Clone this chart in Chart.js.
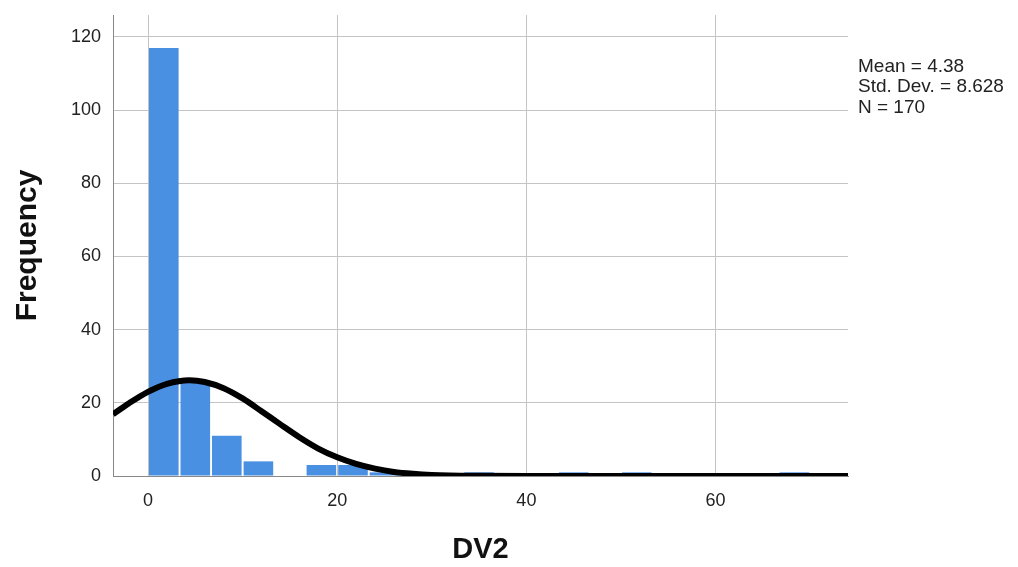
<!DOCTYPE html>
<html>
<head>
<meta charset="utf-8">
<script src="https://cdn.jsdelivr.net/npm/chart.js@4/dist/chart.umd.min.js"></script>
<style>
  html, body { margin: 0; padding: 0; background: #fff; }
  #wrap { width: 1018px; height: 567px; }
</style>
</head>
<body>
<div id="wrap"><canvas id="histChart"></canvas></div>
<script>
// Histogram bins (centre of each bin, bin width 3.33)
const binCenters = [1.67, 5.0, 8.33, 11.67, 15.0, 18.33, 21.67, 25.0, 28.33, 31.67, 35.0,
                    38.33, 41.67, 45.0, 48.33, 51.67, 55.0, 58.33, 61.67, 65.0, 68.33];
const frequencies = [117, 26, 11, 4, 0, 3, 3, 1, 1, 0, 1, 0, 0, 1, 0, 1, 0, 0, 0, 0, 1];

// Normal curve
const curveX = [-3.7, -2, 0, 2, 4.38, 6, 8, 10, 12, 14, 16, 18, 20, 22, 24, 26, 28, 30, 35, 40, 50, 60, 74];
const curveY = [16.9, 19.9, 23.0, 25.2, 26.2, 25.7, 24.0, 21.2, 17.7, 14.1, 10.6, 7.5, 5.1, 3.3, 2.0, 1.1, 0.6, 0.3, 0.05, 0, 0, 0, 0];

const xTicks = [0, 20, 40, 60];
const yTicks = [0, 20, 40, 60, 80, 100, 120];
const statsLines = ['Mean = 4.38', 'Std. Dev. = 8.628', 'N = 170'];

const FONT = '"Liberation Sans", Arial, sans-serif';

// Draw the stats box text to the right of the plot
const statsPlugin = {
    id: 'statsText',
    afterDraw(chart) {
        const ctx = chart.ctx;
        ctx.save();
        ctx.fillStyle = '#222';
        ctx.font = '19px ' + FONT;
        ctx.textBaseline = 'alphabetic';
        statsLines.forEach((t, i) => {
            ctx.fillText(t, chart.chartArea.right + 10, 72 + i * 20.3);
        });
        ctx.restore();
    }
};

const ctx = document.getElementById('histChart').getContext('2d');
new Chart(ctx, {
    type: 'bar',
    data: {
        datasets: [
            {
                type: 'line',
                data: curveX.map((x, i) => ({ x: x, y: curveY[i] })),
                borderColor: '#000',
                borderWidth: 6,
                pointRadius: 0,
                tension: 0.4,
                cubicInterpolationMode: 'monotone',
                order: 0
            },
            {
                type: 'bar',
                data: binCenters.map((x, i) => ({ x: x, y: frequencies[i] })),
                backgroundColor: '#4a90e2',
                barPercentage: 0.94,
                categoryPercentage: 1,
                order: 1
            }
        ]
    },
    plugins: [statsPlugin],
    options: {
        responsive: true,
        maintainAspectRatio: false,
        animation: false,
        layout: {
            padding: { top: 15, right: 170, left: 0, bottom: 0 }
        },
        scales: {
            x: {
                type: 'linear',
                min: -3.7,
                max: 74,
                offset: false,
                afterBuildTicks: scale => { scale.ticks = xTicks.map(v => ({ value: v })); },
                afterFit: scale => { scale.height = 91; scale.paddingLeft = 0; scale.paddingRight = 0; },
                grid: { color: '#c4c4c4', lineWidth: 1, drawTicks: false, offset: false },
                border: { color: '#888', width: 1 },
                ticks: { font: { family: FONT, size: 18 }, color: '#222', padding: 14 },
                title: {
                    display: true,
                    text: 'DV2',
                    font: { family: FONT, size: 29, weight: 'bold' },
                    color: '#111',
                    padding: { top: 16, bottom: 0 }
                }
            },
            y: {
                min: 0,
                max: 126,
                afterBuildTicks: scale => { scale.ticks = yTicks.map(v => ({ value: v })); },
                afterFit: scale => { scale.width = 113; scale.paddingTop = 0; scale.paddingBottom = 0; },
                grid: { color: '#c4c4c4', lineWidth: 1, drawTicks: false },
                border: { color: '#888', width: 1 },
                ticks: { font: { family: FONT, size: 18 }, color: '#222', padding: 12 },
                title: {
                    display: true,
                    text: 'Frequency',
                    font: { family: FONT, size: 30, weight: 'bold' },
                    color: '#111',
                    padding: { top: 10, bottom: 0 }
                }
            }
        },
        plugins: {
            legend: { display: false },
            tooltip: { enabled: false }
        }
    }
});
</script>
</body>
</html>
